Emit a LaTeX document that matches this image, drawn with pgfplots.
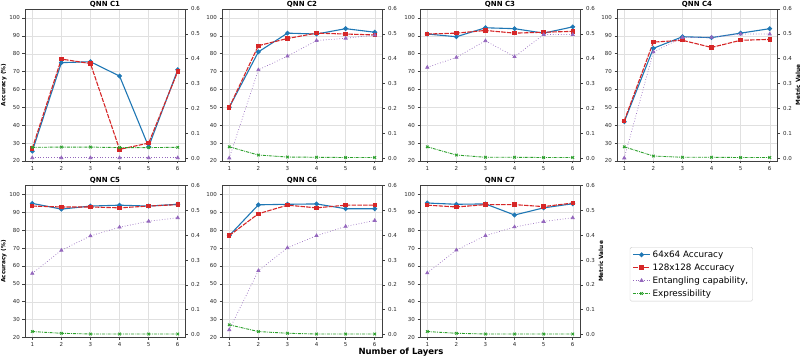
\documentclass[border=0pt]{standalone}
\usepackage{pgfplots}
\pgfplotsset{compat=1.18}
\usepackage{pgfplotstable}
\usepackage{fontspec}
\setmainfont{DejaVu Sans}
\definecolor{cb}{HTML}{1F77B4}
\definecolor{cr}{HTML}{D62728}
\definecolor{cp}{HTML}{9467BD}
\definecolor{cg}{HTML}{2CA02C}

\pgfplotstableread{
L B R E X
1 25.5 27 0.001 0.043
2 75 77 0.001 0.044
3 75.5 74.5 0.001 0.044
4 67.5 26.5 0.001 0.042
5 28 30 0.001 0.042
6 71 70 0.001 0.043
}\tA
\pgfplotstableread{
L B R E X
1 50 50 0.0 0.045
2 81 84.5 0.355 0.012
3 91.5 88.5 0.41 0.004
4 91 91.5 0.473 0.003
5 94 91 0.482 0.002
6 92 90.5 0.495 0.002
}\tB
\pgfplotstableread{
L B R E X
1 91 91 0.365 0.045
2 89.5 91.5 0.405 0.012
3 94.5 93 0.472 0.003
4 94 91.5 0.408 0.003
5 91.5 92 0.497 0.002
6 95 92.5 0.497 0.002
}\tC
\pgfplotstableread{
L B R E X
1 42 42.5 0.0 0.045
2 83 86.5 0.427 0.008
3 89.5 87.5 0.485 0.003
4 89 83.5 0.486 0.003
5 91.5 87.5 0.499 0.002
6 94 88 0.499 0.002
}\tD
\pgfplotstableread{
L B R E X
1 95 93.5 0.246 0.012
2 91.8 93 0.339 0.005
3 93.5 93 0.397 0.002
4 94 92.5 0.432 0.002
5 93.5 93.5 0.456 0.002
6 94.5 94.3 0.47 0.002
}\tE
\pgfplotstableread{
L B R E X
1 77 77 0.019 0.039
2 94.2 89.2 0.257 0.012
3 94.5 94 0.349 0.005
4 94.7 92.5 0.398 0.002
5 92 94 0.435 0.002
6 92 94 0.459 0.002
}\tF
\pgfplotstableread{
L B R E X
1 95.2 94 0.248 0.012
2 94.5 93 0.34 0.005
3 94.7 94.3 0.398 0.002
4 88.5 94.3 0.433 0.002
5 92.5 93.2 0.455 0.002
6 94.8 95.2 0.47 0.002
}\tG

\pgfplotsset{
  common/.style={scale only axis, width=160pt, height=152pt, anchor=south west,
    xmin=0.75, xmax=6.25, xtick={1,2,3,4,5,6},
    axis line style={black!75, line width=0.7pt},
    tick style={black!75, line width=0.5pt}, tick align=outside, major tick length=2.5pt,
    ticklabel style={font=\fontsize{5.5}{6}\selectfont, text=black!85},
    /pgf/number format/assume math mode=true,
    label style={font=\bfseries\fontsize{5.8}{6.5}\selectfont},
  },
  leftax/.style={common, ymin=20, ymax=105, ytick={20,30,40,50,60,70,80,90,100},
    xtick pos=bottom, ytick pos=left,
    grid=major, grid style={black!12, line width=0.4pt},
    every axis title/.style={at={(0.5,1)}, anchor=south, inner sep=0pt, yshift=1.5pt,
      font=\bfseries\fontsize{7}{8}\selectfont},
    xticklabel style={yshift=1pt}, yticklabel style={xshift=1pt},
    ylabel style={yshift=-4pt},
  },
  rightax/.style={common, axis y line*=right, axis x line=none,
    ymin=-0.012, ymax=0.6, ytick={0,0.1,0.2,0.3,0.4,0.5,0.6},
    yticklabel style={/pgf/number format/.cd, fixed, fixed zerofill, precision=1},
    ylabel style={yshift=3pt},
  },
  s64/.style={color=cb, line width=1.1pt, mark=*, mark size=1.8pt},
  s128/.style={color=cr, line width=1.1pt, dash pattern=on 4.5pt off 1.2pt, mark=square*, mark size=1.6pt, mark options={solid}},
  sent/.style={color=cp, line width=0.7pt, dotted, mark=triangle*, mark size=1.8pt, mark options={solid}},
  sexp/.style={color=cg, line width=0.9pt, dash pattern=on 3pt off 1pt on 0.8pt off 1pt, mark=x, mark size=1.8pt, mark options={solid}},
}

\newcommand{\qnn}[6]{%
  \begin{axis}[leftax, at={(#1,#2)}, title={#3}, #5]
    \addplot[s64] table[x=L,y=B]{#4};
    \addplot[s128] table[x=L,y=R]{#4};
  \end{axis}
  \begin{axis}[rightax, at={(#1,#2)}, #6]
    \addplot[sent] table[x=L,y=E]{#4};
    \addplot[sexp] table[x=L,y=X]{#4};
  \end{axis}}

\begin{document}
\begin{tikzpicture}
\useasboundingbox (0,0) rectangle (800pt,361pt);
\qnn{25pt}{200pt}{QNN C1}{\tA}{ylabel={Accuracy (\%)}}{}
\qnn{222pt}{200pt}{QNN C2}{\tB}{}{}
\qnn{420pt}{200pt}{QNN C3}{\tC}{}{}
\qnn{617pt}{200pt}{QNN C4}{\tD}{}{ylabel={Metric Value}}
\qnn{25pt}{23.5pt}{QNN C5}{\tE}{ylabel={Accuracy (\%)}}{}
\qnn{222pt}{23.5pt}{QNN C6}{\tF}{}{}
\qnn{420pt}{23.5pt}{QNN C7}{\tG}{}{ylabel={Metric Value}}
\begin{axis}[hide axis, scale only axis, width=160pt, height=152pt, anchor=south west, at={(617pt,23.5pt)},
  xmin=0, xmax=1, ymin=0, ymax=1,
  legend style={at={(0.08,0.595)}, anchor=north west, draw=black!20, rounded corners=1.5pt,
    font=\fontsize{8.8}{9.5}\selectfont, row sep=0.8pt, inner xsep=2.5pt, inner ysep=1.5pt},
  legend cell align=left]
  \addlegendimage{s64}\addlegendentry{64x64 Accuracy}
  \addlegendimage{s128}\addlegendentry{128x128 Accuracy}
  \addlegendimage{sent}\addlegendentry{Entangling capability,}
  \addlegendimage{sexp}\addlegendentry{Expressibility}
\end{axis}
\node[font=\bfseries\fontsize{8.5}{10}\selectfont] at (401pt,9pt) {Number of Layers};
\end{tikzpicture}
\end{document}
